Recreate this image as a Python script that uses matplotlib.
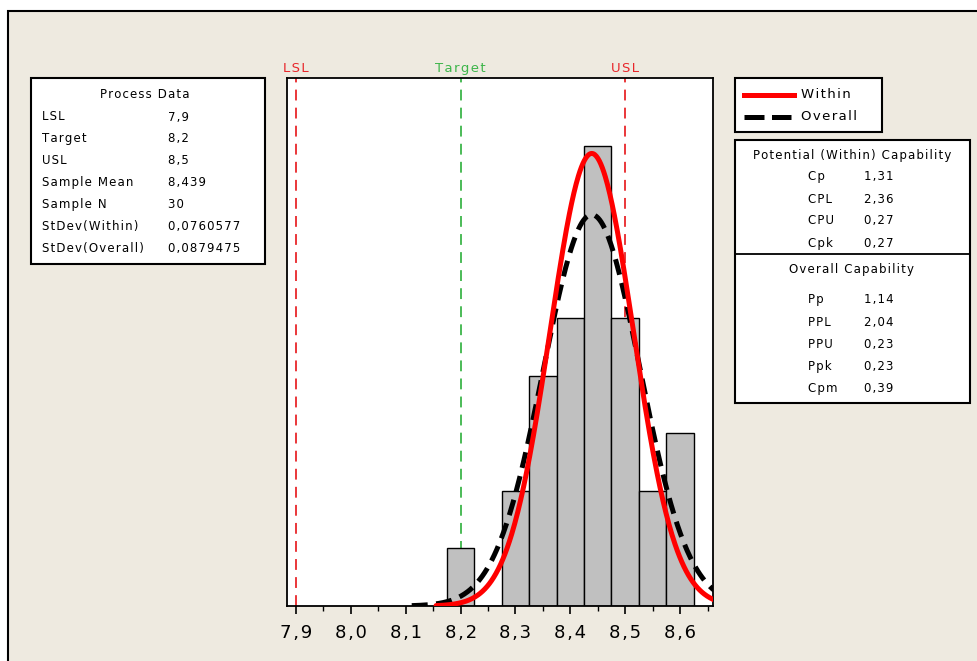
import matplotlib
matplotlib.use("Agg")
import matplotlib.pyplot as plt
import numpy as np
from matplotlib.patches import Rectangle

# histogram data
bin_centers = [8.2, 8.25, 8.3, 8.35, 8.4, 8.45, 8.5, 8.55, 8.6]
counts = [1, 0, 2, 4, 5, 8, 5, 2, 3]
bin_width = 0.05

lsl, target, usl = 7.9, 8.2, 8.5
mean = 8.439
n = 30
sd_within = 0.0760577
sd_overall = 0.0879475

xticks = [7.9, 8.0, 8.1, 8.2, 8.3, 8.4, 8.5, 8.6]

process_labels = ["LSL", "Target", "USL", "Sample Mean", "Sample N", "StDev(Within)", "StDev(Overall)"]
process_values = ["7,9", "8,2", "8,5", "8,439", "30", "0,0760577", "0,0879475"]

within_labels = ["Cp", "CPL", "CPU", "Cpk"]
within_values = ["1,31", "2,36", "0,27", "0,27"]
overall_labels = ["Pp", "PPL", "PPU", "Ppk", "Cpm"]
overall_values = ["1,14", "2,04", "0,23", "0,23", "0,39"]

W, H = 978, 661
beige = "#EEEAE0"
fig = plt.figure(figsize=(W / 100, H / 100), dpi=100, facecolor="white")


def fx(px):
    return px / W


def fy(py):
    return 1 - py / H


def sp(s):
    # minitab draws its text with wide letter spacing
    return "\u200a".join(s)


def box(x0, y0, x1, y1, fc="white", lw=1.5, z=0):
    fig.patches.append(Rectangle((fx(x0), fy(y1)), fx(x1 - x0), (y1 - y0) / H,
                                 transform=fig.transFigure, facecolor=fc,
                                 edgecolor="black", lw=lw, zorder=z))


# outer frame
box(8, 11, 1100, 800, fc=beige, lw=1.5, z=-1)

# main axes
ax = fig.add_axes([fx(287), fy(606), fx(713 - 287), (606 - 78) / H], zorder=2)
ax.set_facecolor("white")
ax.bar(bin_centers, counts, width=bin_width, color="#C0C0C0", edgecolor="black", lw=1.0, zorder=2)

xs = np.linspace(mean - 3.73 * sd_within, 8.7, 400)
ax.plot(xs, n * bin_width / (sd_within * np.sqrt(2 * np.pi)) * np.exp(-0.5 * ((xs - mean) / sd_within) ** 2),
        color="red", lw=3.6, zorder=4, solid_capstyle="round")
xs = np.linspace(mean - 3.73 * sd_overall, 8.7, 400)
ax.plot(xs, n * bin_width / (sd_overall * np.sqrt(2 * np.pi)) * np.exp(-0.5 * ((xs - mean) / sd_overall) ** 2),
        color="black", lw=3.6, ls=(0, (3.2, 1.7)), zorder=3)

for v, c, lab in [(lsl, "#E8262A", "LSL"), (target, "#3DB54A", "Target"), (usl, "#E8262A", "USL")]:
    ax.axvline(v, color=c, lw=1.3, ls=(0, (6, 4)), zorder=1)
    ax.text(v, 1.005, sp(lab), color=c, fontsize=9.5, ha="center", va="bottom",
            transform=ax.get_xaxis_transform())

ax.set_xlim(7.8836, 8.660)
ax.set_ylim(0, 9.18)
ax.set_yticks([])
ax.set_xticks(xticks)
ax.set_xticklabels([sp(f"{t:.1f}".replace(".", ",")) for t in xticks], fontsize=13)
ax.set_xticks(np.arange(7.95, 8.66, 0.1), minor=True)
ax.tick_params(axis="x", which="major", length=6, width=1.2, pad=7)
ax.tick_params(axis="x", which="minor", length=3.5, width=1.0)
for s in ax.spines.values():
    s.set_linewidth(1.3)

fs = 8.5
# process data box
box(31, 78, 265, 264)
fig.text(fx(145), fy(95), sp("Process Data"), fontsize=fs, ha="center", va="center")
for i, (lab, val) in enumerate(zip(process_labels, process_values)):
    y = 117 + i * 21.9
    fig.text(fx(42), fy(y), sp(lab), fontsize=fs, va="center")
    fig.text(fx(168), fy(y), sp(val), fontsize=fs, va="center")

# legend box
box(735, 78, 882, 132)
fig.lines.append(plt.Line2D([fx(744), fx(794)], [fy(95), fy(95)], color="red", lw=3.6,
                            transform=fig.transFigure))
fig.lines.append(plt.Line2D([fx(744), fx(791)], [fy(117), fy(117)], color="black", lw=3.6,
                            ls=(0, (4.0, 1.5)), transform=fig.transFigure))
fig.text(fx(801), fy(95), sp("Within"), fontsize=9.5, va="center")
fig.text(fx(801), fy(117), sp("Overall"), fontsize=9.5, va="center")

# capability box
box(735, 140, 970, 403)
fig.lines.append(plt.Line2D([fx(736), fx(969)], [fy(254), fy(254)], color="black", lw=1.3,
                            transform=fig.transFigure))
fig.text(fx(852), fy(155), sp("Potential (Within) Capability"), fontsize=fs, ha="center", va="center")
for i, (lab, val) in enumerate(zip(within_labels, within_values)):
    y = 177 + i * 22
    fig.text(fx(808), fy(y), sp(lab), fontsize=fs, va="center")
    fig.text(fx(864), fy(y), sp(val), fontsize=fs, va="center")
fig.text(fx(852), fy(270), sp("Overall Capability"), fontsize=fs, ha="center", va="center")
for i, (lab, val) in enumerate(zip(overall_labels, overall_values)):
    y = 300 + i * 22.2
    fig.text(fx(808), fy(y), sp(lab), fontsize=fs, va="center")
    fig.text(fx(864), fy(y), sp(val), fontsize=fs, va="center")

fig.savefig("out.png", dpi=100, facecolor=fig.get_facecolor())
